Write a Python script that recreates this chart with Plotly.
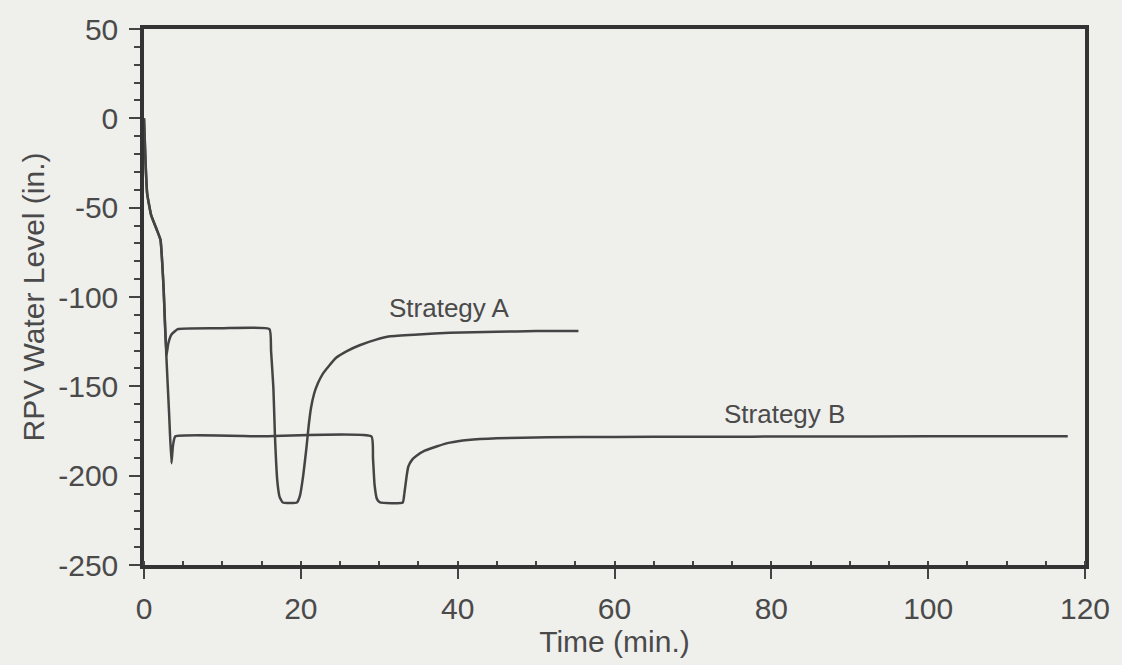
import plotly.graph_objects as go

# ---- data ----
time_a = [0, 0.2, 0.4, 0.9, 1.6, 2.1, 2.5, 2.85, 3.1, 3.5, 4.3, 10, 16.0, 16.2, 16.5, 16.7,
          17.0, 17.3, 17.7, 19.5, 19.9, 20.3, 20.7, 21.0, 21.3, 21.7, 22.2, 22.8, 23.5, 24.5,
          26.0, 27.5, 29.5, 31.4, 35, 39, 45, 50, 55.4]
level_a = [0, -25, -42, -54, -62, -68, -95, -133, -126, -121, -118, -117.5, -118, -130, -151, -178,
           -203, -212, -215, -215, -211, -200, -185, -172, -162, -154, -148, -143, -139, -134,
           -130, -127, -124, -122, -121, -120, -119.5, -119, -119]

time_b = [0, 0.2, 0.4, 0.9, 1.6, 2.1, 2.5, 2.85, 3.2, 3.5, 3.7, 4.0, 15, 29.0, 29.2, 29.4,
          29.7, 30.1, 33.0, 33.2, 33.5, 33.7, 34.2, 34.8, 35.8, 37.4, 39, 41.3, 45, 51.5,
          60, 70, 85, 100, 117.8]
level_b = [0, -25, -42, -54, -62, -68, -95, -133, -165, -193, -183, -178, -178, -178, -190, -205,
           -213, -215, -215, -210, -200, -195, -191, -188.7, -186, -183.5, -181.5, -180, -179, -178.5,
           -178.3, -178.2, -178.1, -178, -178]

x_tick_vals = [0, 20, 40, 60, 80, 100, 120]
y_tick_vals = [-250, -200, -150, -100, -50, 0, 50]
y_tick_labels = ["-250", "-200", "-150", "-100", "-50", "0", "50"]

label_a = "Strategy A"
label_b = "Strategy B"

LINE = "#444444"
TEXT = "#4a4a4a"
FONT = "Arial, Liberation Sans, sans-serif"

fig = go.Figure()
fig.add_trace(go.Scatter(x=time_a, y=level_a, mode="lines", name=label_a,
                         line=dict(color=LINE, width=2.5, shape="spline", smoothing=0.4)))
fig.add_trace(go.Scatter(x=time_b, y=level_b, mode="lines", name=label_b,
                         line=dict(color=LINE, width=2.5, shape="spline", smoothing=0.4)))

fig.add_annotation(x=39, y=-106, text=label_a, showarrow=False,
                   font=dict(family=FONT, size=26, color=TEXT))
fig.add_annotation(x=81.7, y=-165.5, text=label_b, showarrow=False,
                   font=dict(family=FONT, size=26, color=TEXT))

fig.update_layout(
    width=1122, height=665,
    margin=dict(l=144, r=36, t=27, b=100),
    paper_bgcolor="#efefec", plot_bgcolor="#efefec",
    showlegend=False,
    font=dict(family=FONT, color=TEXT),
)
fig.update_xaxes(
    range=[0, 120], tickvals=x_tick_vals, ticks="outside", ticklen=10, tickwidth=2,
    tickcolor=LINE, showgrid=False, zeroline=False,
    showline=True, linewidth=3.5, linecolor="#333333", mirror=True,
    tickfont=dict(size=30, color=TEXT, family=FONT), ticklabelstandoff=4,
    minor=dict(dtick=5, ticks="inside", ticklen=4, tickcolor=LINE, tickwidth=1.5),
    title=dict(text="Time (min.)", font=dict(size=30, color=TEXT, family=FONT), standoff=4),
)
fig.update_yaxes(
    range=[-250, 50], tickvals=y_tick_vals, ticktext=y_tick_labels, ticks="outside",
    ticklen=11, tickwidth=2, tickcolor=LINE, showgrid=False, zeroline=False,
    showline=True, linewidth=3.5, linecolor="#333333", mirror=True,
    tickfont=dict(size=30, color=TEXT, family=FONT), ticklabelstandoff=5,
    minor=dict(dtick=10, ticks="outside", ticklen=6, tickcolor=LINE, tickwidth=1.5),
    title=dict(text="RPV Water Level (in.)", font=dict(size=30, color=TEXT, family=FONT), standoff=6),
)

fig.write_html("out.html")
